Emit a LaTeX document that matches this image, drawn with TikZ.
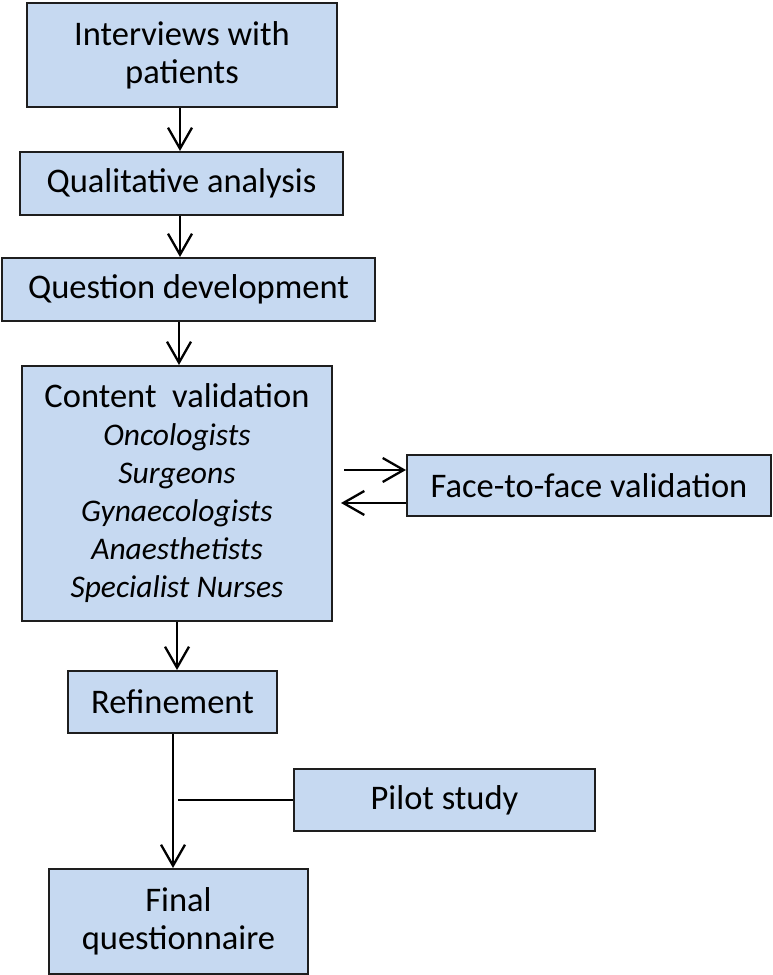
\documentclass[tikz,border=0pt]{standalone}
\usepackage{fontspec}
\setmainfont{Carlito}
\usetikzlibrary{arrows.meta,calc}
\definecolor{boxfill}{HTML}{C6D9F1}
\definecolor{boxline}{HTML}{1E1E1E}
\tikzset{
  flowbox/.style={draw=boxline, line width=2pt, fill=boxfill, inner sep=0pt,
    align=center, font=\fontsize{34.5}{38}\selectfont, anchor=center},
  arr/.style={line width=2.3pt, -{Straight Barb[length=21pt,width=24pt,line width=2.3pt]}},
  thinline/.style={line width=1.6pt}
}
\newcommand{\itl}{\fontsize{31.5}{38}\selectfont\itshape}
\begin{document}
\begin{tikzpicture}[x=1pt,y=1pt]
\useasboundingbox (0,0) rectangle (773,975);
% boxes (y = 975 - image y)
\node[flowbox, minimum width=310pt, minimum height=104pt] (n1) at (182,920) {Interviews with\\patients};
\node[flowbox, minimum width=323pt, minimum height=63pt] (n2) at (181.5,791.5) {Qualitative analysis};
\node[flowbox, minimum width=373pt, minimum height=63pt] (n3) at (188.5,685.5) {Question development};
\node[flowbox, minimum width=310pt, minimum height=255pt] (n4) at (177,481.5) {Content\ \ validation\\{\itl Oncologists}\\{\itl Surgeons}\\{\itl Gynaecologists}\\{\itl Anaesthetists}\\{\itl Specialist Nurses}};
\node[flowbox, minimum width=364pt, minimum height=61pt] (n5) at (589,489.5) {Face-to-face validation};
\node[flowbox, minimum width=209pt, minimum height=62pt] (n6) at (172.5,273) {Refinement};
\node[flowbox, minimum width=301pt, minimum height=62pt] (n7) at (444.5,175) {Pilot study};
\node[flowbox, minimum width=259pt, minimum height=105pt] (n8) at (178.5,53.5) {Final\\questionnaire};
% helper coordinates
\coordinate (ax1) at (180,0);
\coordinate (ax2) at (179,0);
\coordinate (ax3) at (177,0);
\coordinate (ax4) at (173,0);
\coordinate (yr) at (0,505);
\coordinate (yl) at (0,472);
\coordinate (pilotend) at (178,175);
% connectors
\draw[arr] (n1.south -| ax1) -- (n2.north -| ax1);
\draw[arr] (n2.south -| ax1) -- (n3.north -| ax1);
\draw[arr] (n3.south -| ax2) -- (n4.north -| ax2);
\draw[arr] ([xshift=11pt]n4.east |- yr) -- (n5.west |- yr);
\draw[arr] (n5.west |- yl) -- ([xshift=8pt]n4.east |- yl);
\draw[arr] (n4.south -| ax3) -- (n6.north -| ax3);
\draw[arr] (n6.south -| ax4) -- (n8.north -| ax4);
\draw[thinline] (n7.west) -- (pilotend);
\end{tikzpicture}
\end{document}
